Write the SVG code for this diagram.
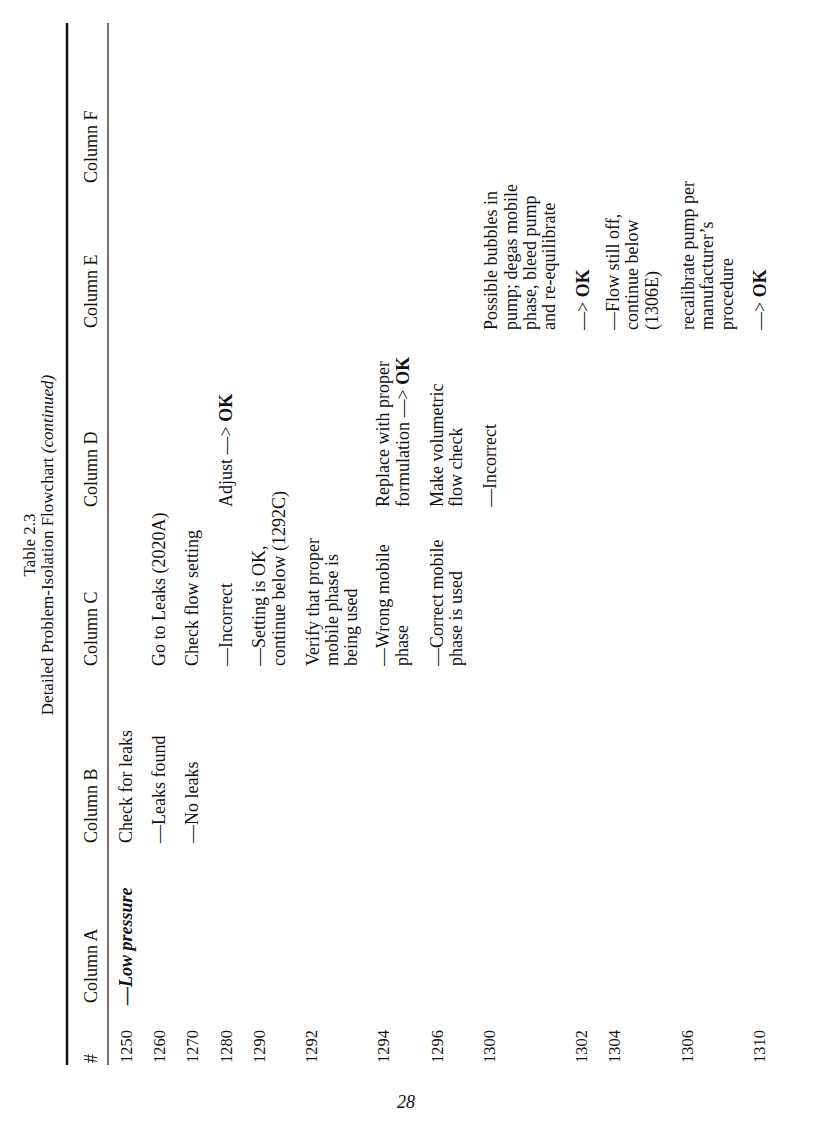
<svg xmlns="http://www.w3.org/2000/svg" width="816" height="1123" viewBox="0 0 816 1123">
<style>
text{font-family:"Liberation Serif","DejaVu Serif",serif;font-size:18px;fill:#111}
.n{font-size:16.5px}
.b{font-weight:bold}
.i{font-style:italic}
.t{text-anchor:middle;font-size:17px}
</style>
<rect width="816" height="1123" fill="#fff"/>
<g id="rules" stroke="#111">
<line x1="67" y1="23" x2="67" y2="1065" stroke-width="2.5"/>
<line x1="108" y1="23" x2="108" y2="1065" stroke-width="1.2"/>
</g>
<g id="title">
<text class="t" transform="translate(35,545) rotate(-90)">Table 2.3</text>
<text class="t" transform="translate(53,545) rotate(-90)">Detailed Problem-Isolation Flowchart <tspan class="i">(continued)</tspan></text>
</g>
<g id="header">
<text transform="translate(97,1063) rotate(-90)">#</text>
<text transform="translate(97,1003) rotate(-90)">Column A</text>
<text transform="translate(97,843) rotate(-90)">Column B</text>
<text transform="translate(97,666) rotate(-90)">Column C</text>
<text transform="translate(97,507) rotate(-90)">Column D</text>
<text transform="translate(97,328) rotate(-90)">Column E</text>
<text transform="translate(97,183) rotate(-90)">Column F</text>
</g>
<g id="r1250">
<text class="n" transform="translate(132,1063) rotate(-90)">1250</text>
<text class="b i" transform="translate(132,1005) rotate(-90)">—Low pressure</text>
<text transform="translate(132,843) rotate(-90)">Check for leaks</text>
</g>
<g id="r1260">
<text class="n" transform="translate(165,1063) rotate(-90)">1260</text>
<text transform="translate(165,843) rotate(-90)">—Leaks found</text>
<text transform="translate(165,666) rotate(-90)">Go to Leaks (2020A)</text>
</g>
<g id="r1270">
<text class="n" transform="translate(198,1063) rotate(-90)">1270</text>
<text transform="translate(198,843) rotate(-90)">—No leaks</text>
<text transform="translate(198,666) rotate(-90)">Check flow setting</text>
</g>
<g id="r1280">
<text class="n" transform="translate(232,1063) rotate(-90)">1280</text>
<text transform="translate(232,666) rotate(-90)">—Incorrect</text>
<text transform="translate(232,507) rotate(-90)">Adjust —&gt; <tspan class="b">OK</tspan></text>
</g>
<g id="r1290">
<text class="n" transform="translate(265,1063) rotate(-90)">1290</text>
<text transform="translate(265,666) rotate(-90)">—Setting is OK,</text>
<text transform="translate(285,666) rotate(-90)">continue below (1292C)</text>
</g>
<g id="r1292">
<text class="n" transform="translate(317,1063) rotate(-90)">1292</text>
<text transform="translate(319,666) rotate(-90)">Verify that proper</text>
<text transform="translate(338,666) rotate(-90)">mobile phase is</text>
<text transform="translate(357,666) rotate(-90)">being used</text>
</g>
<g id="r1294">
<text class="n" transform="translate(389,1063) rotate(-90)">1294</text>
<text transform="translate(389,666) rotate(-90)">—Wrong mobile</text>
<text transform="translate(408,666) rotate(-90)">phase</text>
<text transform="translate(389,507) rotate(-90)">Replace with proper</text>
<text transform="translate(409,507) rotate(-90)">formulation —&gt; <tspan class="b">OK</tspan></text>
</g>
<g id="r1296">
<text class="n" transform="translate(443,1063) rotate(-90)">1296</text>
<text transform="translate(443,666) rotate(-90)">—Correct mobile</text>
<text transform="translate(462,666) rotate(-90)">phase is used</text>
<text transform="translate(443,507) rotate(-90)">Make volumetric</text>
<text transform="translate(462,507) rotate(-90)">flow check</text>
</g>
<g id="r1300">
<text class="n" transform="translate(495,1063) rotate(-90)">1300</text>
<text transform="translate(496,507) rotate(-90)">—Incorrect</text>
<text transform="translate(497,330) rotate(-90)">Possible bubbles in</text>
<text transform="translate(517,330) rotate(-90)">pump; degas mobile</text>
<text transform="translate(536,330) rotate(-90)">phase, bleed pump</text>
<text transform="translate(555,330) rotate(-90)">and re-equilibrate</text>
</g>
<g id="r1302">
<text class="n" transform="translate(587,1063) rotate(-90)">1302</text>
<text transform="translate(589,330) rotate(-90)">—&gt; <tspan class="b">OK</tspan></text>
</g>
<g id="r1304">
<text class="n" transform="translate(620,1063) rotate(-90)">1304</text>
<text transform="translate(619,330) rotate(-90)">—Flow still off,</text>
<text transform="translate(638,330) rotate(-90)">continue below</text>
<text transform="translate(658,330) rotate(-90)">(1306E)</text>
</g>
<g id="r1306">
<text class="n" transform="translate(693,1063) rotate(-90)">1306</text>
<text transform="translate(694,330) rotate(-90)">recalibrate pump per</text>
<text transform="translate(713,330) rotate(-90)">manufacturer’s</text>
<text transform="translate(733,330) rotate(-90)">procedure</text>
</g>
<g id="r1310">
<text class="n" transform="translate(765,1063) rotate(-90)">1310</text>
<text transform="translate(766,330) rotate(-90)">—&gt; <tspan class="b">OK</tspan></text>
</g>
<text class="i" x="397" y="1108" font-size="22">28</text>
</svg>
